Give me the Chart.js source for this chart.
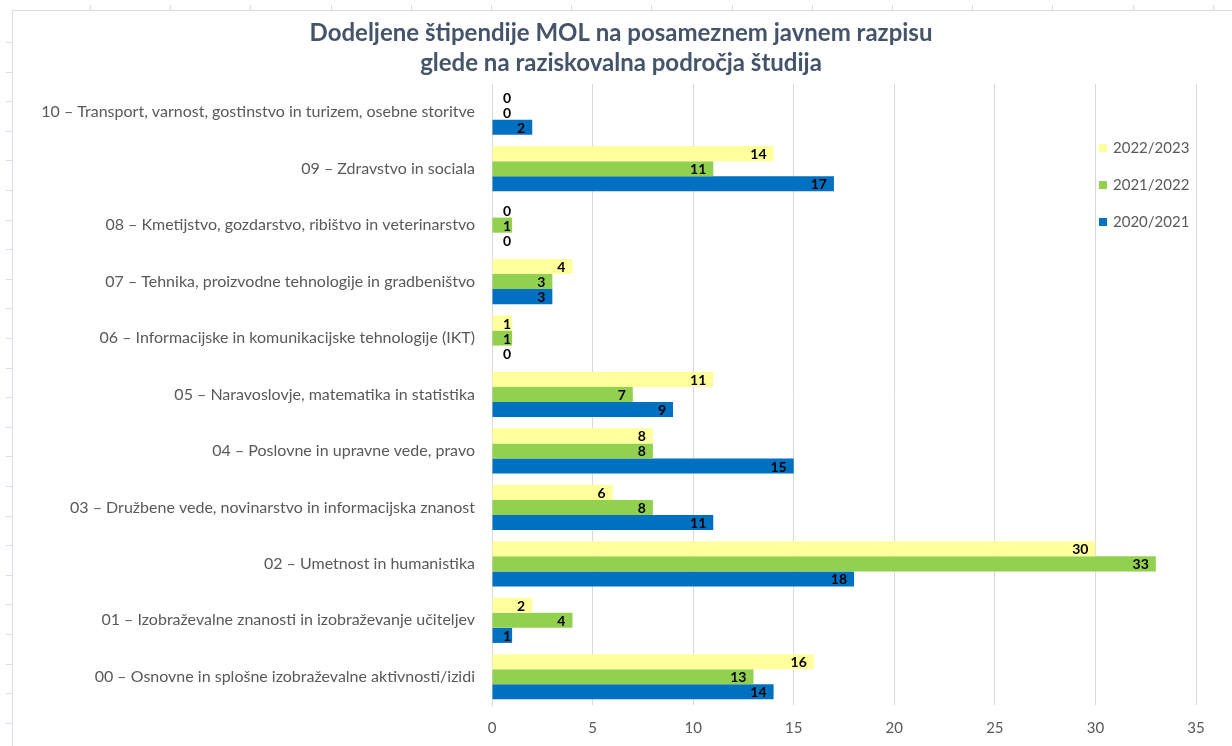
<!DOCTYPE html>
<html>
<head>
<meta charset="utf-8">
<script src="https://cdn.jsdelivr.net/npm/chart.js@4.4.0/dist/chart.umd.min.js"></script>
<style>
  html, body { margin: 0; padding: 0; background: #fff; }
  #wrap { width: 1232px; height: 746px; position: relative; }
</style>
</head>
<body>
<div id="wrap"><canvas id="stipendije" width="1232" height="746"></canvas></div>
<script>
// categories, top to bottom as in the picture
var categories = [
  "10 – Transport, varnost, gostinstvo in turizem, osebne storitve",
  "09 – Zdravstvo in sociala",
  "08 – Kmetijstvo, gozdarstvo, ribištvo in veterinarstvo",
  "07 – Tehnika, proizvodne tehnologije in gradbeništvo",
  "06 – Informacijske in komunikacijske tehnologije (IKT)",
  "05 – Naravoslovje, matematika in statistika",
  "04 – Poslovne in upravne vede, pravo",
  "03 – Družbene vede, novinarstvo in informacijska znanost",
  "02 – Umetnost in humanistika",
  "01 – Izobraževalne znanosti in izobraževanje učiteljev",
  "00 – Osnovne in splošne izobraževalne aktivnosti/izidi"
];
var seriesNames = ["2022/2023", "2021/2022", "2020/2021"];
var v2022 = [0, 14, 0, 4, 1, 11, 8, 6, 30, 2, 16];
var v2021 = [0, 11, 1, 3, 1, 7, 8, 8, 33, 4, 13];
var v2020 = [2, 17, 0, 3, 0, 9, 15, 11, 18, 1, 14];
var xTicks = [0, 5, 10, 15, 20, 25, 30, 35];
var titleLines = ["Dodeljene štipendije MOL na posameznem javnem razpisu", "glede na raziskovalna področja študija"];

var colors = ["#FFFF9C", "#92D050", "#0070C0"];
var axisText = "#595959";
var font = "Lato, 'Open Sans', sans-serif";

// sheet lines left and top (behind the chart)
var sheetLines = {
  id: "sheetLines",
  beforeDraw: function (chart) {
    var c = chart.ctx;
    c.save();
    c.fillStyle = "#fff";
    c.fillRect(0, 0, chart.width, chart.height);
    c.strokeStyle = "#d9dce3";
    c.lineWidth = 1;
    c.beginPath();
    c.moveTo(12.5, 10); c.lineTo(12.5, 746);
    c.moveTo(12, 10.5); c.lineTo(1232, 10.5);
    for (var y = 42; y < 746; y += 29.6) { c.moveTo(6, Math.round(y) + 0.5); c.lineTo(12, Math.round(y) + 0.5); }
    for (var x = 90; x < 1232; x += 80.2) { c.moveTo(Math.round(x) + 0.5, 5); c.lineTo(Math.round(x) + 0.5, 10); }
    c.stroke();

    // title
    c.font = "bold 24px " + font;
    c.fillStyle = "#44546A";
    c.textAlign = "center";
    c.textBaseline = "middle";
    titleLines.forEach(function (t, i) { c.fillText(t, 621, 33 + i * 30); });
    c.restore();
  }
};

// value labels at the inner end of each bar
var barLabels = {
  id: "barLabels",
  afterDatasetsDraw: function (chart) {
    var c = chart.ctx;
    var x0 = chart.scales.x.getPixelForValue(0);
    c.save();
    c.font = "bold 14px " + font;
    c.fillStyle = "#000";
    c.textAlign = "right";
    c.textBaseline = "middle";
    chart.data.datasets.forEach(function (ds, i) {
      chart.getDatasetMeta(i).data.forEach(function (bar, j) {
        var x = Math.max(bar.x - 7, x0 + 19);
        c.fillText(String(ds.data[j]), x, bar.y + 1);
      });
    });
    c.restore();
  }
};

// legend over the right part of the plot
var sideLegend = {
  id: "sideLegend",
  afterDraw: function (chart) {
    var c = chart.ctx;
    c.save();
    c.font = "15px " + font;
    c.textBaseline = "middle";
    c.textAlign = "left";
    chart.data.datasets.forEach(function (ds, i) {
      var y = 148 + i * 37;
      c.fillStyle = ds.backgroundColor;
      c.fillRect(1099, y - 4, 8, 8);
      c.fillStyle = axisText;
      c.fillText(ds.label, 1113, y);
    });
    c.restore();
  }
};

new Chart(document.getElementById("stipendije"), {
  type: "bar",
  data: {
    labels: categories,
    datasets: [
      { label: seriesNames[0], data: v2022, backgroundColor: colors[0] },
      { label: seriesNames[1], data: v2021, backgroundColor: colors[1] },
      { label: seriesNames[2], data: v2020, backgroundColor: colors[2] }
    ]
  },
  options: {
    indexAxis: "y",
    responsive: false,
    animation: false,
    layout: { padding: { left: 12, right: 36, top: 84, bottom: 5 } },
    datasets: { bar: { categoryPercentage: 0.8, barPercentage: 1.0 } },
    plugins: {
      legend: { display: false },
      tooltip: { enabled: false },
      title: { display: false }
    },
    scales: {
      x: {
        min: 0,
        max: 35,
        afterBuildTicks: function (s) { s.ticks = xTicks.map(function (v) { return { value: v }; }); },
        afterFit: function (s) { s.height = 36; },
        grid: { color: "#d9d9d9", drawTicks: false },
        border: { display: false },
        ticks: { color: axisText, padding: 14, font: { family: font, size: 15 } }
      },
      y: {
        afterFit: function (s) { s.width = 480; },
        grid: { display: false, drawTicks: false },
        border: { color: "#d9d9d9" },
        ticks: { color: axisText, padding: 17, font: { family: font, size: 16 } }
      }
    }
  },
  plugins: [sheetLines, barLabels, sideLegend]
});
</script>
</body>
</html>
